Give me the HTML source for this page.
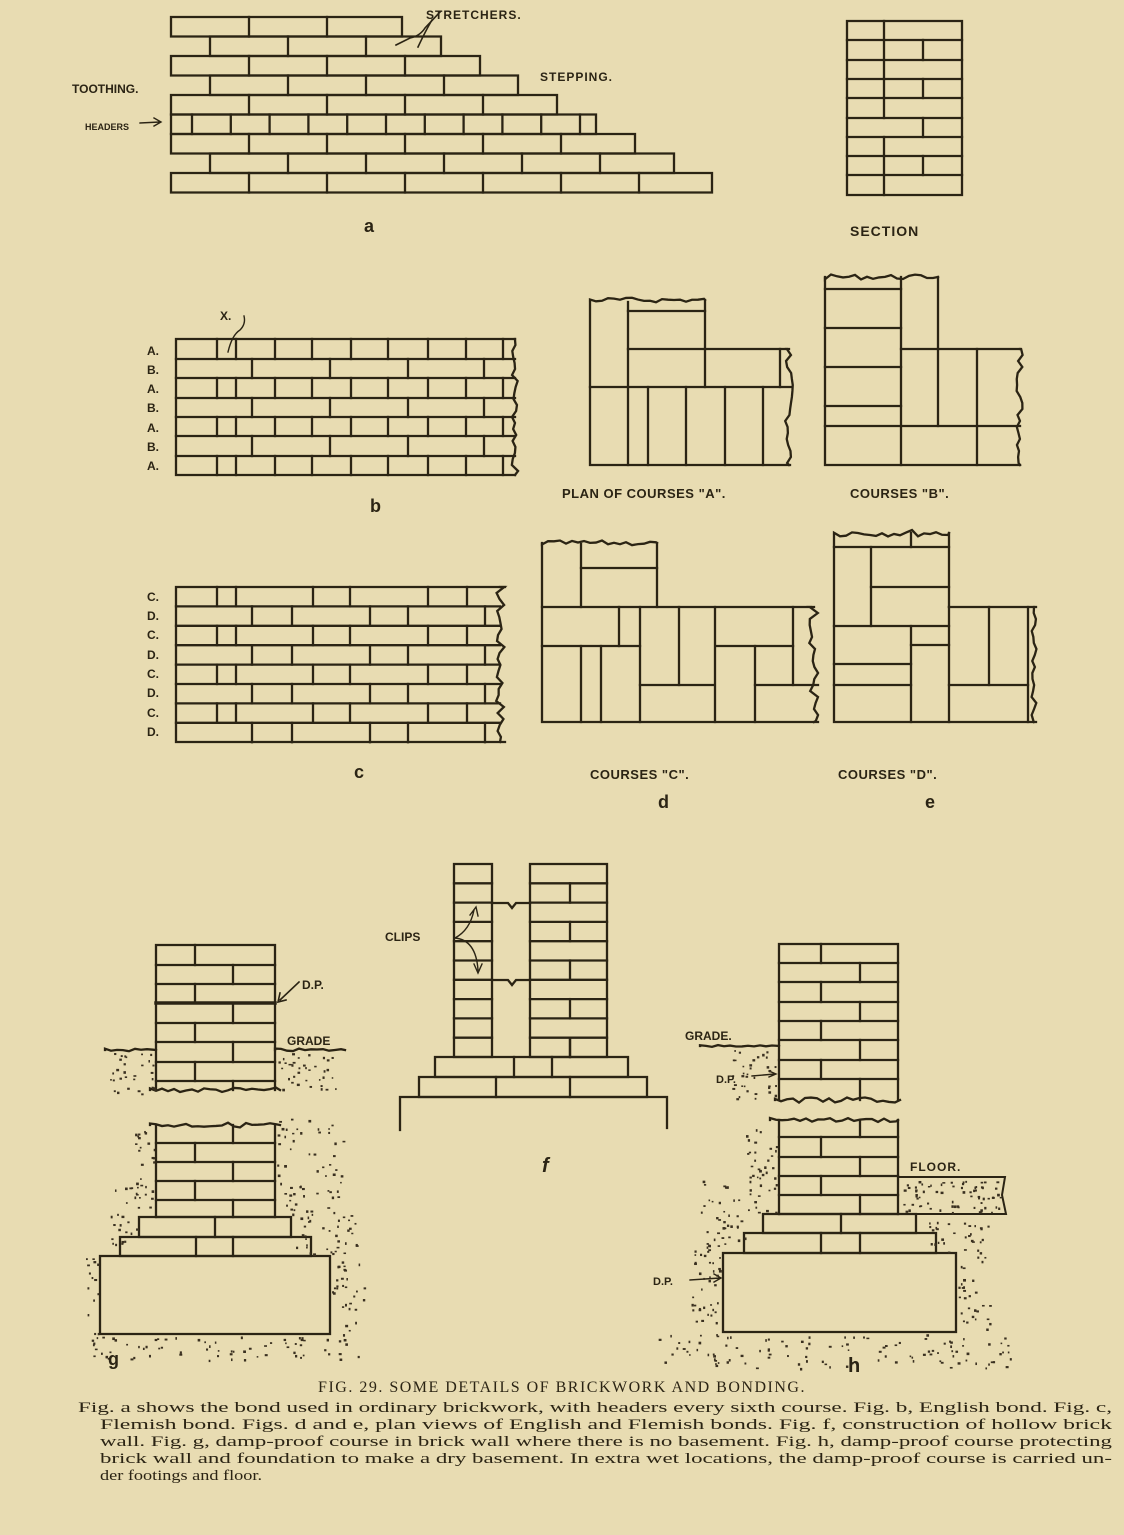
<!DOCTYPE html>
<html><head><meta charset="utf-8"><style>
html,body{margin:0;padding:0;background:#e8dcb2;}
svg{display:block}
.l{font-family:"Liberation Sans",sans-serif;font-weight:bold;fill:#2b2414;}
.c{font-family:"Liberation Serif",serif;fill:#2b2414;}
</style></head><body>
<svg id="s" width="1124" height="1535" viewBox="0 0 1124 1535" xmlns="http://www.w3.org/2000/svg">
<rect width="1124" height="1535" fill="#e8dcb2"/>
<g id="g" stroke="#2b2414" stroke-width="2.3" fill="none" stroke-linecap="square"></g>
<g id="dots" fill="#3a3020"></g>
<text class="l" x="426" y="19" font-size="12" letter-spacing="1">STRETCHERS.</text>
<text class="l" x="540" y="81" font-size="12" letter-spacing="1">STEPPING.</text>
<text class="l" x="72" y="93" font-size="12">TOOTHING.</text>
<text class="l" x="85" y="130" font-size="9">HEADERS</text>
<text class="l" x="364" y="232" font-size="18">a</text>
<text class="l" x="850" y="236" font-size="14" letter-spacing="1">SECTION</text>
<text class="l" x="220" y="320" font-size="12">X.</text>
<g class="l" font-size="12">
<text x="147" y="355">A.</text><text x="147" y="374">B.</text><text x="147" y="393">A.</text><text x="147" y="412">B.</text><text x="147" y="432">A.</text><text x="147" y="451">B.</text><text x="147" y="470">A.</text>
<text x="147" y="601">C.</text><text x="147" y="620">D.</text><text x="147" y="639">C.</text><text x="147" y="659">D.</text><text x="147" y="678">C.</text><text x="147" y="697">D.</text><text x="147" y="717">C.</text><text x="147" y="736">D.</text>
</g>
<text class="l" x="370" y="512" font-size="18">b</text>
<text class="l" x="562" y="498" font-size="13" letter-spacing="0.5">PLAN OF COURSES "A".</text>
<text class="l" x="850" y="498" font-size="13" letter-spacing="0.5">COURSES "B".</text>
<text class="l" x="354" y="778" font-size="18">c</text>
<text class="l" x="590" y="779" font-size="13" letter-spacing="0.5">COURSES "C".</text>
<text class="l" x="838" y="779" font-size="13" letter-spacing="0.5">COURSES "D".</text>
<text class="l" x="658" y="808" font-size="18">d</text>
<text class="l" x="925" y="808" font-size="18">e</text>
<text class="l" x="385" y="941" font-size="12">CLIPS</text>
<text class="l" x="542" y="1172" font-size="20" font-style="italic">f</text>
<text class="l" x="302" y="989" font-size="12">D.P.</text>
<text class="l" x="287" y="1045" font-size="12">GRADE</text>
<text class="l" x="108" y="1365" font-size="18">g</text>
<text class="l" x="685" y="1040" font-size="12">GRADE.</text>
<text class="l" x="716" y="1083" font-size="11">D.P.</text>
<text class="l" x="910" y="1171" font-size="12" letter-spacing="1">FLOOR.</text>
<text class="l" x="653" y="1285" font-size="11">D.P.</text>
<text class="l" x="848" y="1372" font-size="20">h</text>
<text class="c" x="562" y="1392" font-size="16" text-anchor="middle" letter-spacing="1.5">FIG. 29.   SOME DETAILS OF BRICKWORK AND BONDING.</text>
<g class="c" font-size="15">
<text x="78" y="1412" textLength="1034" lengthAdjust="spacingAndGlyphs">Fig. a shows the bond used in ordinary brickwork, with headers every sixth course. Fig. b, English bond. Fig. c,</text>
<text x="100" y="1429" textLength="1012" lengthAdjust="spacingAndGlyphs">Flemish bond. Figs. d and e, plan views of English and Flemish bonds. Fig. f, construction of hollow brick</text>
<text x="100" y="1446" textLength="1012" lengthAdjust="spacingAndGlyphs">wall. Fig. g, damp-proof course in brick wall where there is no basement. Fig. h, damp-proof course protecting</text>
<text x="100" y="1463" textLength="1012" lengthAdjust="spacingAndGlyphs">brick wall and foundation to make a dry basement. In extra wet locations, the damp-proof course is carried un-</text>
<text x="100" y="1480" textLength="162" lengthAdjust="spacingAndGlyphs">der footings and floor.</text>
</g>
</svg>
<script>
var G=document.getElementById('g'),D=document.getElementById('dots'),NS='http://www.w3.org/2000/svg';
var seed=7;function r(){seed=(seed*9301+49297)%233280;return seed/233280;}
function L(x1,y1,x2,y2,w){var e=document.createElementNS(NS,'line');e.setAttribute('x1',x1);e.setAttribute('y1',y1);e.setAttribute('x2',x2);e.setAttribute('y2',y2);if(w)e.setAttribute('stroke-width',w);G.appendChild(e);}
function P(d,w){var e=document.createElementNS(NS,'path');e.setAttribute('d',d);if(w)e.setAttribute('stroke-width',w);G.appendChild(e);}
function R(x1,y1,x2,y2){P('M'+x1+' '+y1+'H'+x2+'V'+y2+'H'+x1+'Z');}
function W(x1,x2,y,a){var d='M'+x1+' '+y;for(var x=x1;x<=x2;x+=6){d+=' L'+x+' '+(y+(r()-0.5)*a);}d+=' L'+x2+' '+y;P(d);}
function WV(x,y1,y2,a){var d='M'+x+' '+y1;for(var y=y1;y<=y2;y+=6){d+=' L'+(x+(r()-0.5)*a)+' '+y;}d+=' L'+x+' '+y2;P(d);}
function dots(x1,y1,x2,y2,n){for(var i=0;i<n;i++){var c=document.createElementNS(NS,'rect');c.setAttribute('x',x1+r()*(x2-x1));c.setAttribute('y',y1+r()*(y2-y1));c.setAttribute('width',1.5+r()*1.5);c.setAttribute('height',1.5+r()*1.2);D.appendChild(c);}}
var ends=[402,441,480,518,557,596,635,674,712];
for(var i=0;i<9;i++){var t=17+i*19.5,b=t+19.5,odd=(i==1||i==3||i==7),x0=odd?210:171;R(x0,t,ends[i],b);
 if(i==5){for(var x=192;x<ends[i]-5;x+=38.8)L(x,t,x,b);}else{for(var x=x0+78;x<ends[i]-5;x+=78)L(x,t,x,b);}}
P('M396 45 L410 38 Q420 36 425 28 L440 12',1.6);P('M418 47 Q426 30 432 20',1.6);P('M140 123 L160 122 M154 118 L161 122 L154 126',1.4);
R(847,21,962,195);var sy=[21,40,60,79,98,118,137,156,175,195];var sj=[[884],[884,923],[884],[884,923],[884],[923],[884],[884,923],[884]];
for(i=0;i<9;i++){if(i>0)L(847,sy[i],962,sy[i]);sj[i].forEach(function(x){L(x,sy[i],x,sy[i+1]);});}
var by=[339,359,378,398,417,436,456,475];P('M515 339 H176 V475 H515');WV(515,339,475,7);
for(i=1;i<7;i++)L(176,by[i],515,by[i]);
for(i=0;i<7;i++){var js=(i%2==0)?[217,236,275,312,351,388,428,466,503]:[252,330,408,484];js.forEach(function(x){L(x,by[i],x,by[i+1]);});}
P('M228 352 Q232 335 240 330 Q246 324 244 316',1.4);
var cy=[];for(i=0;i<=8;i++)cy.push(587+i*19.4);P('M505 587 H176 V742 H505');WV(500,587,742,9);
for(i=1;i<8;i++)L(176,cy[i],500,cy[i]);
for(i=0;i<8;i++){var js=(i%2==0)?[217,236,313,350,428,467]:[252,292,370,408,485];js.forEach(function(x){L(x,cy[i],x,cy[i+1]);});}
P('M590 302 V465 H790');W(590,705,300,5);L(705,300,705,349);L(628,302,628,465);L(628,311,705,311);L(628,349,787,349);L(590,387,792,387);
L(705,349,705,387);L(780,349,780,387);[648,686,725,763].forEach(function(x){L(x,387,x,465);});WV(789,349,465,8);
P('M825 278 V465 H1020');W(825,938,277,5);L(938,277,938,349);L(901,277,901,465);[289,328,367,406].forEach(function(y){L(825,y,901,y);});
L(825,426,1020,426);L(901,349,1020,349);L(938,349,938,426);L(977,349,977,465);WV(1020,349,465,7);
P('M542 544 V722 H818');W(542,657,543,5);L(657,543,657,607);L(581,544,581,607);L(581,568,657,568);L(542,607,811,607);
L(542,646,640,646);L(716,646,793,646);L(640,685,714,685);L(755,685,818,685);
L(619,607,619,646);L(640,607,640,722);L(679,607,679,685);L(715,607,715,722);L(793,607,793,685);L(601,646,601,722);L(581,646,581,722);L(755,646,755,722);WV(814,607,722,10);
P('M834 535 V722 H1036');W(834,949,533,7);L(949,533,949,607);L(911,533,911,547);L(834,547,949,547);L(871,547,871,626);L(871,587,949,587);L(834,626,949,626);
L(949,607,1036,607);L(911,645,949,645);L(911,626,911,722);L(834,664,911,664);L(834,685,911,685);L(949,685,1028,685);L(949,607,949,722);L(989,607,989,685);L(1028,607,1028,722);WV(1034,607,722,5);
var gy=[945,965,984,1003,1023,1042,1062,1081,1090];P('M156 1090 V945 H275 V1090');W(150,280,1090,5);
for(i=1;i<8;i++)L(156,gy[i],275,gy[i],i==3?3.5:2.3);for(i=0;i<8;i++){var x=(i%2==0)?195:233;L(x,gy[i],x,gy[i+1]);}
W(105,156,1050,3);W(275,345,1050,3);P('M299 982 L280 1000 M280 993 L278 1002 L286 1000',1.6);
dots(110,1053,154,1095,30);dots(277,1053,340,1090,35);
W(150,280,1125,5);var gl=[1125,1143,1162,1181,1200,1217];P('M156 1125 V1217 M275 1125 V1217');for(i=1;i<6;i++)L(156,gl[i],275,gl[i]);
for(i=0;i<5;i++){var x=(i%2==0)?233:195;L(x,gl[i],x,gl[i+1]);}
R(139,1217,291,1237);L(215,1217,215,1237);R(120,1237,311,1256);L(196,1237,196,1256);L(233,1237,233,1256);R(100,1256,330,1334);
dots(135,1125,154,1215,25);dots(110,1180,138,1256,25);dots(84,1256,98,1340,15);dots(277,1118,345,1215,60);dots(295,1215,360,1256,35);dots(332,1256,365,1340,30);dots(85,1336,360,1360,70);
var fy=[];for(i=0;i<=10;i++)fy.push(864+i*19.3);R(454,864,492,1057);R(530,864,607,1057);
for(i=1;i<10;i++){L(454,fy[i],492,fy[i]);L(530,fy[i],607,fy[i]);if(i%2==1)L(570,fy[i],570,fy[i+1]);}L(570,fy[9],570,fy[10]);
[903,980].forEach(function(y){P('M492 '+y+' H508 L512 '+(y+5)+' L516 '+y+' H530');});
R(435,1057,628,1077);L(514,1057,514,1077);L(552,1057,552,1077);R(419,1077,647,1097);L(496,1077,496,1097);L(570,1077,570,1097);
P('M400 1130 V1097 H667 V1128');P('M455 938 Q470 930 474 910 M470 915 L476 907 L478 916',1.4);P('M455 938 Q476 940 478 970 M474 964 L478 973 L482 964',1.4);
var hy=[944,963,982,1002,1021,1040,1060,1079,1100];P('M779 1100 V944 H898 V1100');W(775,900,1100,6);
for(i=1;i<8;i++)L(779,hy[i],898,hy[i]);for(i=0;i<8;i++){var x=(i%2==0)?821:860;L(x,hy[i],x,hy[i+1]);}
W(700,779,1046,2);P('M752 1076 L775 1074 M769 1071 L776 1074 L769 1077',1.4);dots(732,1050,777,1100,35);
W(770,898,1120,4);var hl=[1120,1137,1157,1176,1195,1214];P('M779 1120 V1214 M898 1120 V1214');for(i=1;i<6;i++)L(779,hl[i],898,hl[i]);
for(i=0;i<5;i++){var x=(i%2==0)?860:821;L(x,hl[i],x,hl[i+1]);}
R(763,1214,916,1233);L(841,1214,841,1233);R(744,1233,936,1253);L(821,1233,821,1253);L(860,1233,860,1253);R(723,1253,956,1332);
P('M898 1177 H1005 L1002 1195 L1006 1214 H916',2);dots(902,1180,1000,1212,70);
P('M690 1280 L720 1278 M714 1274 L721 1278 L714 1282',1.4);
dots(745,1125,777,1214,40);dots(700,1180,745,1253,40);dots(690,1250,720,1330,35);dots(918,1215,990,1253,30);dots(958,1253,990,1330,30);dots(655,1334,1010,1368,110);
</script>
</body></html>
